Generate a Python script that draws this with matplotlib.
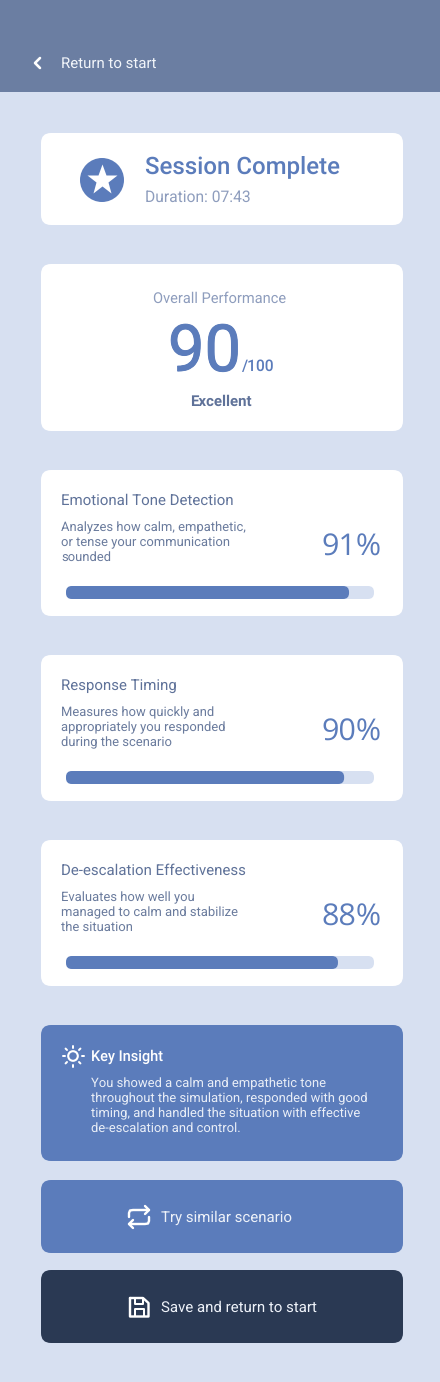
import matplotlib
matplotlib.use('Agg')
import matplotlib.pyplot as plt
import matplotlib.patheffects as pe
from matplotlib.patches import FancyBboxPatch, Circle, Rectangle
import numpy as np

plt.rcParams['font.family'] = ['Roboto', 'DejaVu Sans']
plt.rcParams['text.hinting'] = 'no_hinting'

metric_names = ['Emotional Tone Detection', 'Response Timing', 'De-escalation Effectiveness']
metric_scores = [91, 90, 88]
# bars in the picture run a little past the printed score on the first row
bar_fill = [91.9, 90.3, 88.3]
metric_desc = [
    ['Analyzes how calm, empathetic,', 'or tense your communication', 'sounded'],
    ['Measures how quickly and', 'appropriately you responded', 'during the scenario'],
    ['Evaluates how well you', 'managed to calm and stabilize', 'the situation'],
]
insight_lines = [
    'You showed a calm and empathetic tone',
    'throughout the simulation, responded with good',
    'timing, and handled the situation with effective',
    'de-escalation and control.',
]
overall_score = 90

BG = '#d7e0f1'
HEADER = '#6b7ea2'
BLUE = '#5b7cbb'
DARK = '#2a3953'
SLATE = '#5f7299'
MUTED = '#8e9dbd'

fig = plt.figure(figsize=(4.4, 13.82), dpi=100, facecolor=BG)
ax = fig.add_axes([0, 0, 1, 1])
ax.set_xlim(0, 440)
ax.set_ylim(1382, 0)
ax.axis('off')


def px(size):
    return size * 0.72


def card(x0, y0, x1, y1, color='white', r=10):
    ax.add_patch(FancyBboxPatch((x0 + r, y0 + r), x1 - x0 - 2 * r, y1 - y0 - 2 * r,
                                boxstyle='round,pad=%d,rounding_size=%d' % (r, r),
                                fc=color, ec='none', mutation_aspect=1))


def label(x, y, s, size, color, weight='normal', ha='left', family=None):
    return ax.text(x, y, s, fontsize=px(size), color=color, fontweight=weight, ha=ha, va='baseline',
                   family=family if family else ['Roboto', 'DejaVu Sans'])


def stroke(xs, ys, lw=2.0, color='white'):
    ax.plot(xs, ys, color=color, lw=lw * 0.72, solid_capstyle='round', solid_joinstyle='round')


# header
ax.add_patch(Rectangle((0, 0), 440, 92, fc=HEADER, ec='none'))
stroke([40, 35, 40], [58, 63, 68], lw=2.6)
label(61, 68, 'Return to start', 15, '#f2f5fa')

# session card
card(41, 133, 403, 225)
ax.add_patch(Circle((102, 180), 22, fc=BLUE, ec='none'))
ax.plot([102], [180], marker='*', ms=23, color='white', mec='none')
label(145, 173.5, 'Session Complete', 24, BLUE, weight='medium')
label(145, 202, 'Duration: 07:43', 15.6, MUTED)

# overall card
card(41, 264, 403, 431)
label(220, 303, 'Overall Performance', 14.6, MUTED, ha='center')
score = label(168, 371, str(overall_score), 65, BLUE)
score.set_path_effects([pe.withStroke(linewidth=0.7, foreground=BLUE)])
label(241.5, 371, '/100', 15.5, BLUE, weight='medium')
label(221, 406, 'Excellent', 15, SLATE, weight='bold', ha='center')

# metric cards
for i in range(len(metric_names)):
    top = 470 + 185 * i
    card(41, top, 403, top + 146)
    label(61, top + 35, metric_names[i], 15, SLATE)
    for j, line in enumerate(metric_desc[i]):
        label(61, top + 61 + 15 * j, line, 13, '#6a7b9d')
    label(382, top + 86, '%d%%' % metric_scores[i], 30.5, BLUE, ha='right',
          family=['Open Sans', 'DejaVu Sans'])
    card(66, top + 116, 374, top + 129, color=BG, r=6)
    card(66, top + 116, 66 + 308 * bar_fill[i] / 100, top + 129, color=BLUE, r=6)

# insight
card(41, 1025, 403, 1161, color=BLUE)
ax.add_patch(Circle((73, 1056), 4.8, fc='none', ec='white', lw=1.5))
for a in np.arange(0, 360, 45):
    c, s = np.cos(np.radians(a)), np.sin(np.radians(a))
    stroke([73 + 8.5 * c, 73 + 10.5 * c], [1056 + 8.5 * s, 1056 + 10.5 * s], lw=2)
label(91, 1061, 'Key Insight', 14.5, 'white', weight='medium')
for j, line in enumerate(insight_lines):
    label(91, 1087 + 15 * j, line, 13, '#e9eef7')

# buttons
card(41, 1180, 403, 1253, color=BLUE)
stroke([145, 149, 145], [1206, 1210, 1214], lw=2.4)
stroke([149, 133, 130, 129, 129], [1210, 1210, 1210.5, 1213, 1217], lw=2.4)
stroke([133, 129, 133], [1220, 1224, 1228], lw=2.4)
stroke([129, 145, 148, 149, 149], [1224, 1224, 1223.5, 1221, 1217], lw=2.4)
label(161, 1222, 'Try similar scenario', 15, '#eef2f9')

card(41, 1270, 403, 1343, color=DARK)
stroke([130, 143, 148.5, 148.5, 130, 130], [1298, 1298, 1303, 1316.5, 1316.5, 1298], lw=2.4)
stroke([135, 135, 143, 143], [1299, 1304, 1304, 1299], lw=2)
stroke([135, 135, 144, 144], [1316, 1308.5, 1308.5, 1316], lw=2)
label(161, 1312, 'Save and return to start', 15, '#eef2f9')

fig.savefig('out.png', dpi=100, facecolor=BG)
